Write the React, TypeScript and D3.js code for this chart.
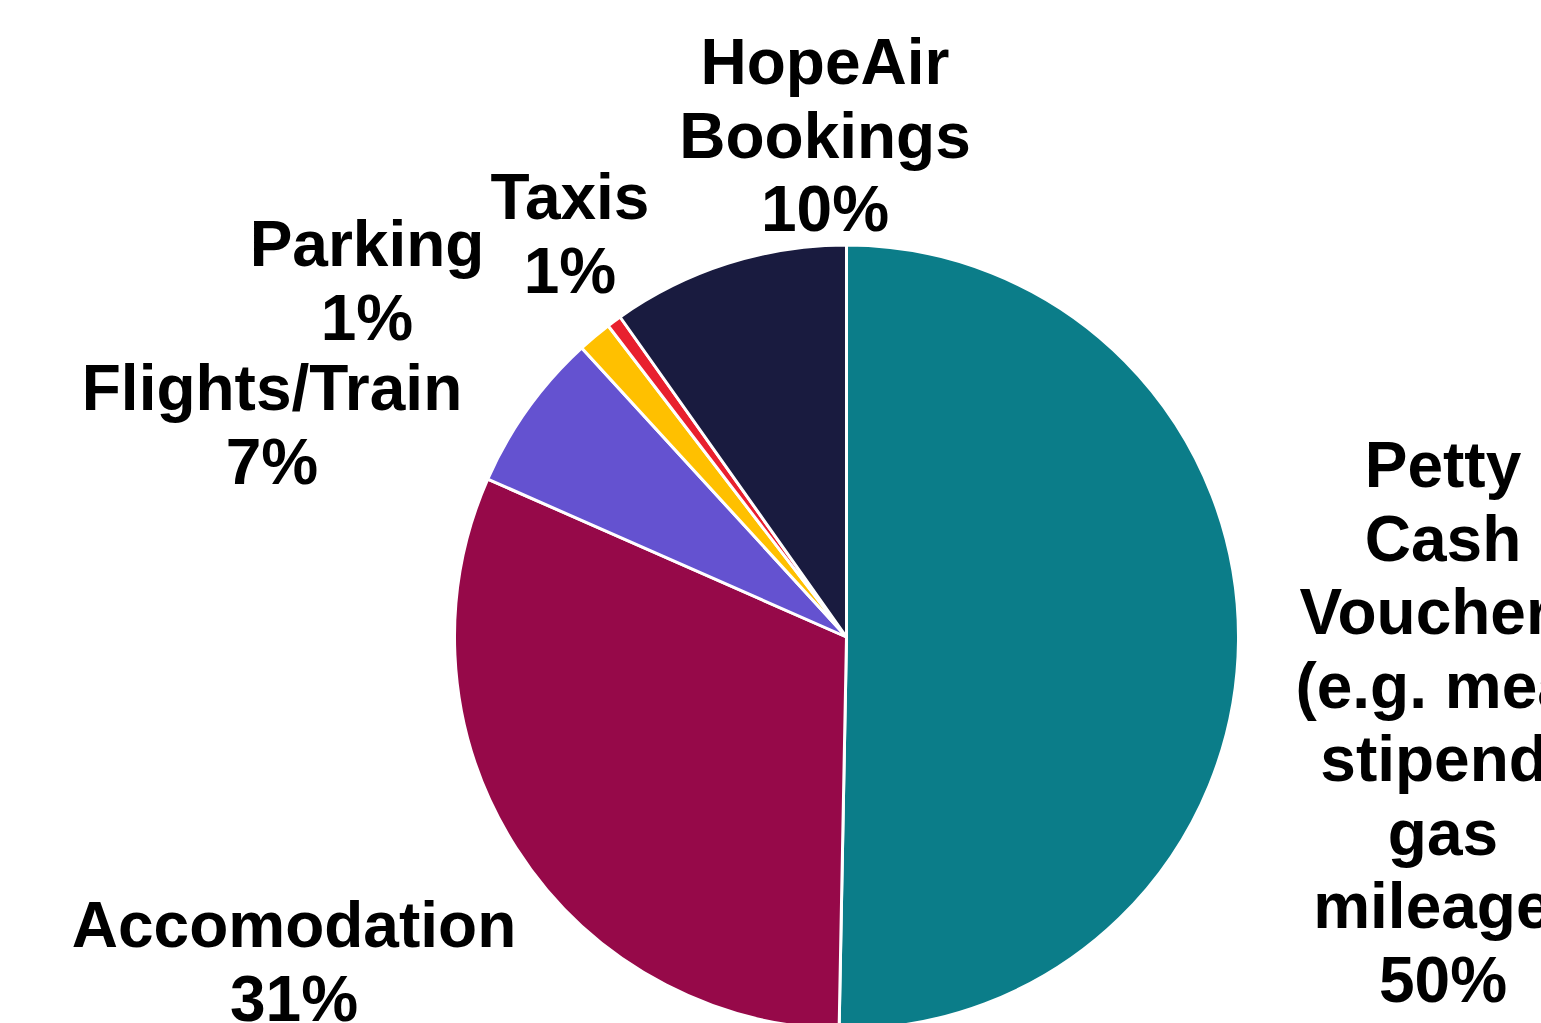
import React from "react";
import * as d3 from "d3";

const categories = ["Petty Cash Vouchers (e.g. meal stipend, gas mileage)", "Accomodation", "Flights/Train", "Parking", "Taxis", "HopeAir Bookings"];
const values = [50.3, 31.3, 6.6, 1.4, 0.6, 9.8];
const colors = ["#0b7d89", "#960949", "#6452d0", "#ffc000", "#e8202e", "#191b3f"];
const labelLines = [
  ["Petty", "Cash", "Vouchers", "(e.g. meal", "stipend,", "gas", "mileage)"],
  ["Accomodation"],
  ["Flights/Train"],
  ["Parking"],
  ["Taxis"],
  ["HopeAir", "Bookings"],
];
// label anchor (center x, first baseline y)
const labelAnchors: [number, number][] = [
  [1443, 487],
  [294, 947],
  [272, 410],
  [367, 266],
  [570, 219],
  [825, 84],
];

const W = 1541;
const H = 1023;
const CX = 846.5;
const CY = 637;
const R = 392;
const FS = 64;
const LH = 73.5;

export default function App() {
  const pie = d3.pie<number>().sort(null).value((d) => d);
  const arcs = pie(values);
  const arc = d3.arc<d3.PieArcDatum<number>>().innerRadius(0).outerRadius(R);
  const total = d3.sum(values);
  return (
    <svg width={W} height={H} style={{ position: "absolute", left: 0, top: 0, background: "#fff" }}>
      <g transform={`translate(${CX},${CY})`}>
        {arcs.map((a, i) => (
          <path key={i} d={arc(a) || ""} fill={colors[i]} stroke="#fff" strokeWidth={3} strokeLinejoin="round" />
        ))}
      </g>
      {arcs.map((a, i) => {
        const [x, y] = labelAnchors[i];
        const lines = [...labelLines[i], `${Math.round((values[i] / total) * 100)}%`];
        return (
          <text
            key={i}
            x={x}
            y={y}
            textAnchor="middle"
            fontFamily="'Liberation Sans', Arial, sans-serif"
            fontWeight="bold"
            fontSize={FS}
            fill="#000"
          >
            {lines.map((l, j) => (
              <tspan key={j} x={x} y={y + j * LH}>
                {l}
              </tspan>
            ))}
          </text>
        );
      })}
    </svg>
  );
}
